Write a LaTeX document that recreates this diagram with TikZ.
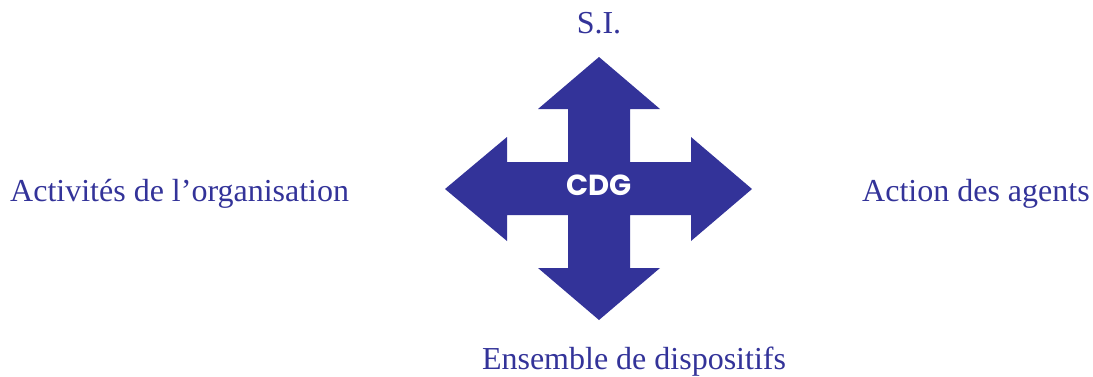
\documentclass[tikz,border=0pt]{standalone}
\usepackage{fontspec}
\setmainfont{Liberation Serif}
\newfontfamily\cdgfont{Poppins}
\definecolor{cdgblue}{RGB}{51,51,153}

\tikzset{
  pole/.style={text=cdgblue, font=\fontsize{32}{38}\selectfont, anchor=base, inner sep=0pt},
  hub/.style={text=white, font=\cdgfont\bfseries\fontsize{29}{33}\selectfont, inner sep=0pt}
}

\begin{document}
\begin{tikzpicture}[x=1pt, y=-1pt]
  \useasboundingbox (0,0) rectangle (1093,376);
  % la croix
  \fill[cdgblue] (599,57) -- (660,109) -- (630,109) -- (630,162) -- (691,162) -- (691,137)
    -- (752,189) -- (691,241) -- (691,215) -- (630,215) -- (630,268) -- (660,268)
    -- (599,320) -- (538,268) -- (568,268) -- (568,215) -- (507,215) -- (507,241)
    -- (445,189) -- (507,137) -- (507,162) -- (568,162) -- (568,109) -- (538,109) -- cycle;
  \node[hub] (cdg) at (599,185) {CDG};
  % les quatre pôles
  \node[pole] (si) at (599,33) {S.I.};
  \node[pole, anchor=base west] (activites) at (10,201.7) {Activités de l’organisation};
  \node[pole, anchor=base west] (action) at (862,201.7) {Action des agents};
  \node[pole] (ensemble) at (634,369) {Ensemble de dispositifs};
\end{tikzpicture}
\end{document}
